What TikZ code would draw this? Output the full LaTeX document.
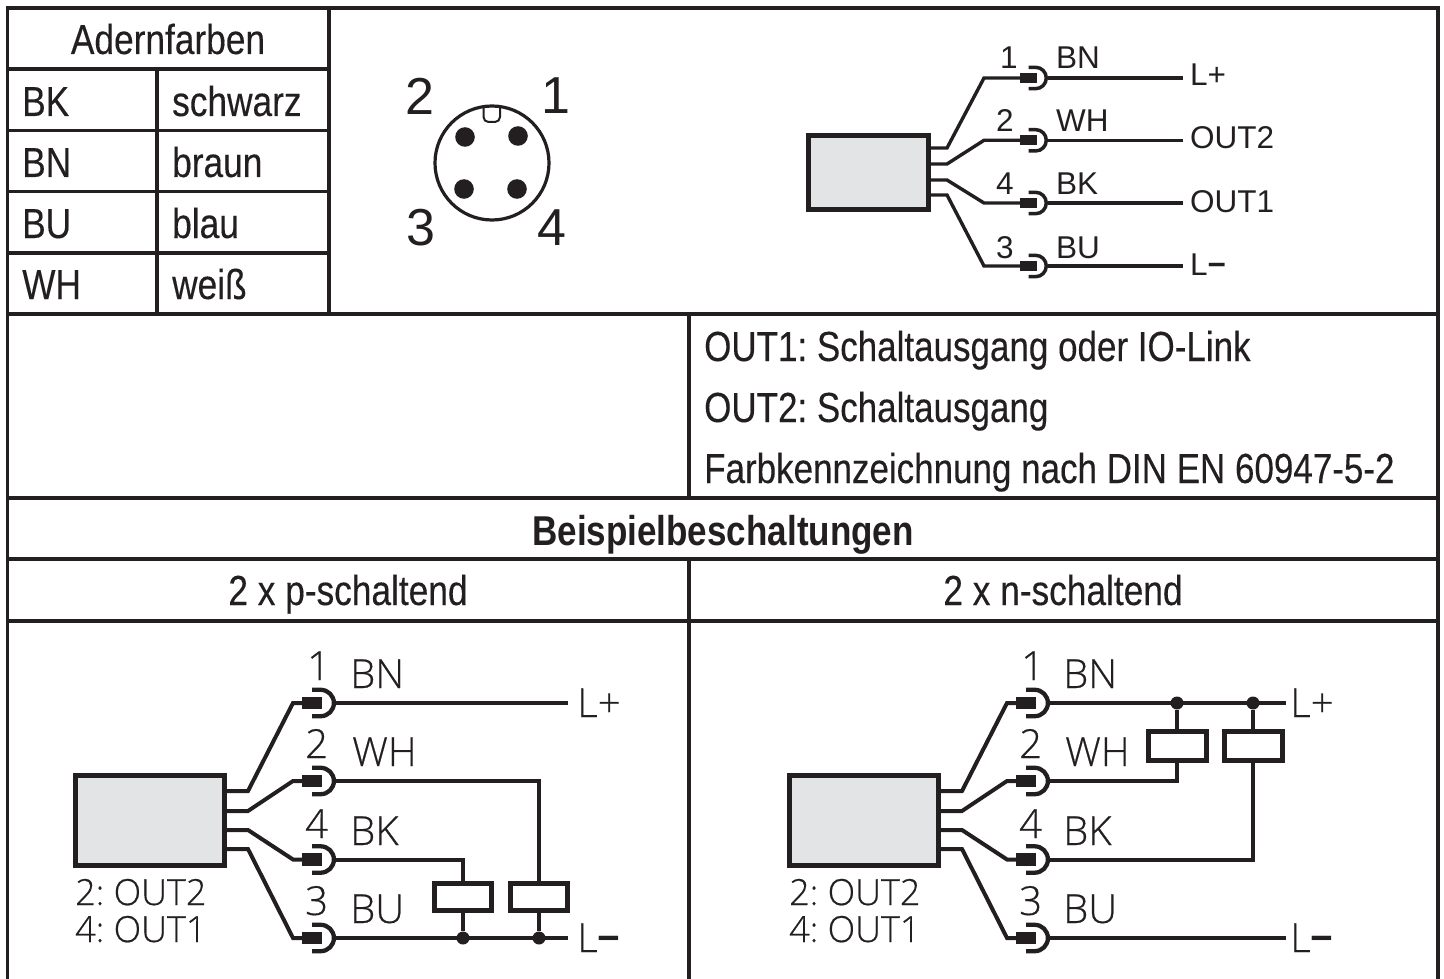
\documentclass[tikz,border=0pt]{standalone}
\usepackage{fontspec}
\setmainfont{Liberation Sans}
\newfontfamily\tabfont[FakeStretch=0.84,FakeBold=0.25]{Liberation Sans}
\newfontfamily\notefont[FakeStretch=0.833,FakeBold=0.25]{Liberation Sans}
\newfontfamily\tabbold[FakeStretch=0.84]{Liberation Sans Bold}
\newfontfamily\opfont[FakeBold=0.5]{Open Sans Light}
\newfontfamily\opheavy{Open Sans Bold}
\newfontfamily\schfont{Liberation Sans}
\newfontfamily\schheavy{Liberation Sans Bold}
\definecolor{ink}{HTML}{231F20}
\definecolor{boxgrey}{HTML}{E3E4E6}
\newcommand{\fs}[1]{\fontsize{#1}{#1}\selectfont\frenchspacing}
\tikzset{
  gridline/.style={draw=ink,line width=3.6pt},
  wire/.style={draw=ink,line width=4pt,line join=miter},
  thinwire/.style={draw=ink,line width=3.4pt,line join=miter},
  device/.style={draw=ink,fill=boxgrey,line width=5pt,inner sep=0pt,anchor=north west},
  relay/.style={draw=ink,fill=white,line width=5pt,inner sep=0pt,anchor=north west},
  tabtext/.style={inner sep=0pt,text=ink,font=\tabfont\fs{42},anchor=base west},
  notetext/.style={inner sep=0pt,text=ink,font=\notefont\fs{42},anchor=base west},
  midbase/.style={inner sep=0pt,text=ink,font=\tabfont\fs{42},anchor=base},
  smalltxt/.style={inner sep=0pt,text=ink,font=\schfont\fs{31.5},anchor=base west},
  bigtxt/.style={inner sep=0pt,text=ink,font=\opfont\fs{40},anchor=base west},
  midtxt/.style={inner sep=0pt,text=ink,font=\opfont\fs{36},anchor=base west},
  pintxt/.style={inner sep=0pt,text=ink,font=\schfont\fs{52}},
  joint/.style={circle,fill=ink,inner sep=0pt,minimum size=13pt},
}
% plug: #1 name, #2 outer right x of arc, #3 y, #4 size factor
\newcommand{\plug}[4]{%
  \coordinate (#1-in) at ({#2-34*#4},#3);
  \coordinate (#1-out) at (#2,#3);
  \fill[ink] ({#2-34*#4},{#3-6.2*#4}) rectangle ({#2-14*#4},{#3+6.2*#4});
  \draw[ink,line width=#4*4.3pt] ({#2-24*#4},{#3-13.2*#4}) -- ({#2-15.3*#4},{#3-13.2*#4}) arc[start angle=-90,end angle=90,radius=13.2*#4] -- ({#2-24*#4},{#3+13.2*#4});
}
\begin{document}
\begin{tikzpicture}[x=1pt,y=-1pt]
\useasboundingbox (0,0) rectangle (1444,979);
% grid
\coordinate (TL) at (7.5,8); \coordinate (TR) at (1438,8);
\draw[gridline] (7.5,979) -- (TL) -- (TR) -- (1438,979);
\draw[gridline] (7.5,69) -- (329,69);
\draw[gridline] (7.5,130.5) -- (329,130.5);
\draw[gridline] (7.5,191.5) -- (329,191.5);
\draw[gridline] (7.5,253) -- (329,253);
\draw[gridline] (7.5,314) -- (1438,314);
\draw[gridline] (7.5,498) -- (1438,498);
\draw[gridline] (7.5,559) -- (1438,559);
\draw[gridline] (7.5,621) -- (1438,621);
\draw[gridline] (157,69) -- (157,314);
\draw[gridline] (329,8) -- (329,314);
\draw[gridline] (689,314) -- (689,498);
\draw[gridline] (689,559) -- (689,979);
% table text
\node[midbase] (t0) at (168,54) {Adernfarben};
\node[tabtext] (t1) at (22,116) {BK};
\node[tabtext] (t2) at (172,116) {schwarz};
\node[tabtext] (t3) at (22,177) {BN};
\node[tabtext] (t4) at (172,177) {braun};
\node[tabtext] (t5) at (22,238) {BU};
\node[tabtext] (t6) at (172,238) {blau};
\node[tabtext] (t7) at (22,299) {WH};
\node[tabtext] (t8) at (172,299) {weiß};
\node[notetext] (n1) at (704,361) {OUT1: Schaltausgang oder IO-Link};
\node[notetext] (n2) at (704,422) {OUT2: Schaltausgang};
\node[notetext] (n3) at (704,483) {Farbkennzeichnung nach DIN EN 60947-5-2};
\node[midbase,font=\tabbold\fs{41.7}] (h0) at (723,545) {Beispielbeschaltungen};
\node[midbase] (h1) at (348,605) {2 x p-schaltend};
\node[midbase] (h2) at (1063,605) {2 x n-schaltend};
% pin view
\node[pintxt] (pin2) at (420,96) {2};
\node[pintxt] (pin1) at (556,96) {1};
\node[pintxt] (pin3) at (421,228) {3};
\node[pintxt] (pin4) at (552,228) {4};
\draw[ink,line width=3.2pt] (492,163) circle[radius=57];
\draw[ink,line width=2pt] (483.5,107) -- (483.5,117) arc[start angle=180,end angle=90,radius=5] -- (495,122) arc[start angle=90,end angle=0,radius=5] -- (500,107);
\foreach \px/\py in {465/137,518/136,464/189,517/189} \fill[ink] (\px,\py) circle[radius=9.8];
% top-right schematic
\node[device,minimum width=120pt,minimum height=74pt] (topbox) at (806,133) {};
\foreach \nm/\sy/\py in {a/148/78,b/164/140.3,c/180/203,d/195/266}{
  \plug{t\nm}{1048}{\py}{0.81}
  \draw[thinwire] (topbox.east |- 0,\sy) -- (947,\sy) -- (984,\py) -- (t\nm-in);
}
\coordinate (ta) at (1183,78); \coordinate (tb) at (1183,140.3); \coordinate (tc) at (1183,203); \coordinate (td) at (1183,266);
\draw[thinwire] (ta-out) -- (ta);
\draw[thinwire] (tb-out) -- (tb);
\draw[thinwire] (tc-out) -- (tc);
\draw[thinwire] (td-out) -- (td);
\node[smalltxt] (tn1) at (1000,69) {1};
\node[smalltxt] (tn2) at (996,132) {2};
\node[smalltxt] (tn4) at (996,195) {4};
\node[smalltxt] (tn3) at (996,258) {3};
\node[smalltxt] (tc1) at (1056,69) {BN};
\node[smalltxt] (tc2) at (1056,132) {WH};
\node[smalltxt] (tc4) at (1056,195) {BK};
\node[smalltxt] (tc3) at (1056,258) {BU};
\node[smalltxt] (tl1) at (1190,86) {L+};
\node[smalltxt] (tl2) at (1190,149) {OUT2};
\node[smalltxt] (tl3) at (1190,212) {OUT1};
\node[smalltxt] (tl4) at (1190,275) {L{\schheavy\textminus}};
% bottom-left schematic
\node[device,minimum width=149pt,minimum height=90pt] (lbox) at (73,773) {};
\foreach \nm/\sy/\ky in {a/791/703,b/811/781,c/830/859.5,d/849/938}{
  \plug{l\nm}{336}{\ky}{1}
  \draw[wire] (lbox.east |- 0,\sy) -- (248,\sy) -- (293,\ky) -- (l\nm-in);
}
\node[relay,minimum width=57pt,minimum height=27pt] (lr1) at (432,881) {};
\node[relay,minimum width=57pt,minimum height=27pt] (lr2) at (508,881) {};
\coordinate (lp) at (568,703); \coordinate (lm) at (568,938);
\node[joint] (lj1) at (lr1.south |- lm) {};
\node[joint] (lj2) at (lr2.south |- lm) {};
\draw[wire] (la-out) -- (lp);
\draw[wire] (ld-out) -- (lm);
\draw[wire] (lc-out) -| (lr1.north);
\draw[wire] (lb-out) -| (lr2.north);
\draw[wire] (lr1.south) -- (lj1);
\draw[wire] (lr2.south) -- (lj2);
\node[bigtxt] (ln1) at (307,680) {1};
\node[bigtxt] (ln2) at (305,758) {2};
\node[bigtxt] (ln4) at (305,838) {4};
\node[bigtxt] (ln3) at (305,915) {3};
\node[bigtxt] (lc1) at (350,688) {BN};
\node[bigtxt] (lc2) at (352,766) {WH};
\node[bigtxt] (lc4) at (350,845) {BK};
\node[bigtxt] (lc3) at (350,923) {BU};
\node[bigtxt] (ll1) at (577,717) {L+};
\node[bigtxt] (ll2) at (577,952) {L{\opheavy\textminus}};
\node[midtxt] (lo1) at (75,905) {2: OUT2};
\node[midtxt] (lo2) at (75,942) {4: OUT1};
% bottom-right schematic
\node[device,minimum width=149pt,minimum height=90pt] (rbox) at (787,773) {};
\foreach \nm/\sy/\ky in {a/791/703,b/811/781,c/830/859.5,d/849/938}{
  \plug{r\nm}{1050}{\ky}{1}
  \draw[wire] (rbox.east |- 0,\sy) -- (962,\sy) -- (1007,\ky) -- (r\nm-in);
}
\node[relay,minimum width=58pt,minimum height=29pt] (rr1) at (1145.5,729) {};
\node[relay,minimum width=58pt,minimum height=29pt] (rr2) at (1221.5,729) {};
\coordinate (rp) at (1286,703); \coordinate (rm) at (1286,938);
\node[joint] (rj1) at (rr1.north |- rp) {};
\node[joint] (rj2) at (rr2.north |- rp) {};
\draw[wire] (ra-out) -- (rp);
\draw[wire] (rd-out) -- (rm);
\draw[wire] (rj1) -- (rr1.north);
\draw[wire] (rj2) -- (rr2.north);
\draw[wire] (rb-out) -| (rr1.south);
\draw[wire] (rc-out) -| (rr2.south);
\node[bigtxt] (rn1) at (1021,680) {1};
\node[bigtxt] (rn2) at (1019,758) {2};
\node[bigtxt] (rn4) at (1019,838) {4};
\node[bigtxt] (rn3) at (1019,915) {3};
\node[bigtxt] (rc1) at (1063,688) {BN};
\node[bigtxt] (rc2) at (1065,766) {WH};
\node[bigtxt] (rc4) at (1063,845) {BK};
\node[bigtxt] (rc3) at (1063,923) {BU};
\node[bigtxt] (rl1) at (1290,717) {L+};
\node[bigtxt] (rl2) at (1290,952) {L{\opheavy\textminus}};
\node[midtxt] (ro1) at (789,905) {2: OUT2};
\node[midtxt] (ro2) at (789,942) {4: OUT1};
\end{tikzpicture}
\end{document}
